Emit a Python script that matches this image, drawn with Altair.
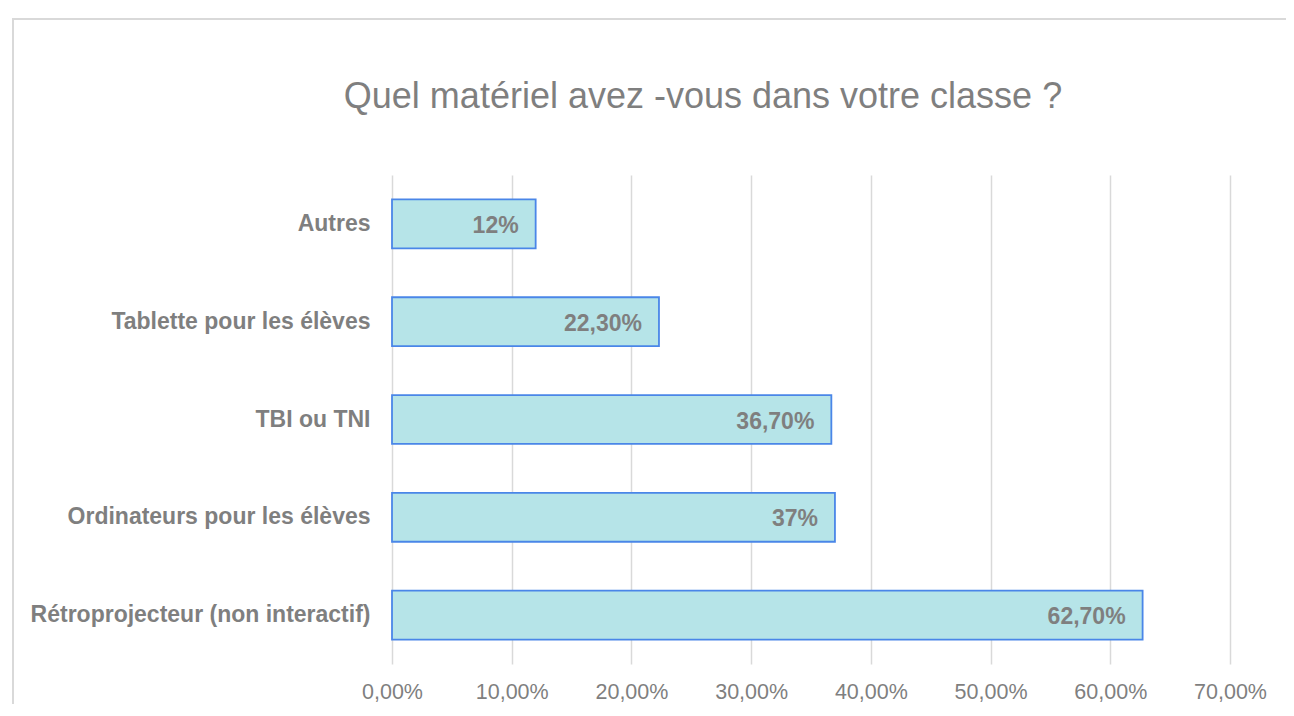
import altair as alt
import pandas as pd

title_text = "Quel matériel avez -vous dans votre classe ?"
categories = ["Autres\u00a0", "Tablette pour les élèves\u00a0", "TBI ou TNI",
              "Ordinateurs pour les élèves\u00a0", "Rétroprojecteur (non interactif)"]
values = [0.12, 0.223, 0.367, 0.37, 0.627]
value_labels = ["12%", "22,30%", "36,70%", "37%", "62,70%"]
x_ticks = [0, 0.1, 0.2, 0.3, 0.4, 0.5, 0.6, 0.7]

df = pd.DataFrame({"cat": categories, "val": values, "lab": value_labels})

GRAY = "#7f7f7f"
FONT = "Liberation Sans"
W, H = 838, 489
PL, PT = 384, 167

y_enc = alt.Y("cat:N", sort=categories, title=None,
              scale=alt.Scale(paddingInner=0.5, paddingOuter=0.25),
              axis=alt.Axis(domain=False, ticks=False, labelFont=FONT,
                            labelFontWeight="bold", labelFontSize=23, labelColor=GRAY,
                            labelPadding=22, labelLimit=500))
x_enc = alt.X("val:Q", title=None,
              scale=alt.Scale(domain=[0, 0.7], nice=False),
              axis=alt.Axis(values=x_ticks, labelExpr="replace(format(datum.value, '.2%'), '.', ',')",
                            domain=False, ticks=False, grid=True, gridColor="#d9d9d9",
                            gridWidth=1.5, labelFont=FONT, labelFontSize=21.5,
                            labelColor=GRAY, labelPadding=17, labelFlush=False,
                            labelOverlap=False))

bars = alt.Chart(df).mark_bar(fill="#b6e4e8", stroke="#4a86e8", strokeWidth=1.8).encode(
    x=x_enc, y=y_enc)

texts = alt.Chart(df).mark_text(align="right", baseline="middle", dx=-17, dy=2,
                                font=FONT, fontWeight="bold", fontSize=23,
                                color=GRAY).encode(
    x="val:Q", y=alt.Y("cat:N", sort=categories), text="lab:N")

one = pd.DataFrame({"t": [title_text]})

border = alt.Chart(one).mark_rect(
    fill=None, stroke="#d9d9d9", strokeWidth=2).encode(
    x=alt.value(13 - 8 - PL), x2=alt.value(W + 400),
    y=alt.value(19 - 8 - PT), y2=alt.value(H + 400))

title = alt.Chart(one).mark_text(align="center", baseline="alphabetic", font=FONT,
                                 fontSize=36, color=GRAY).encode(
    x=alt.value(703 - 392), y=alt.value(108 - 175), text="t:N")

chart = alt.layer(border, title, bars, texts).properties(
    width=W, height=H,
    autosize=alt.AutoSizeParams(type="none"),
    padding={"left": PL, "top": PT, "right": 56, "bottom": 40},
).configure_view(stroke=None)

chart.save("out.html", embed_options={"renderer": "svg", "actions": False})
